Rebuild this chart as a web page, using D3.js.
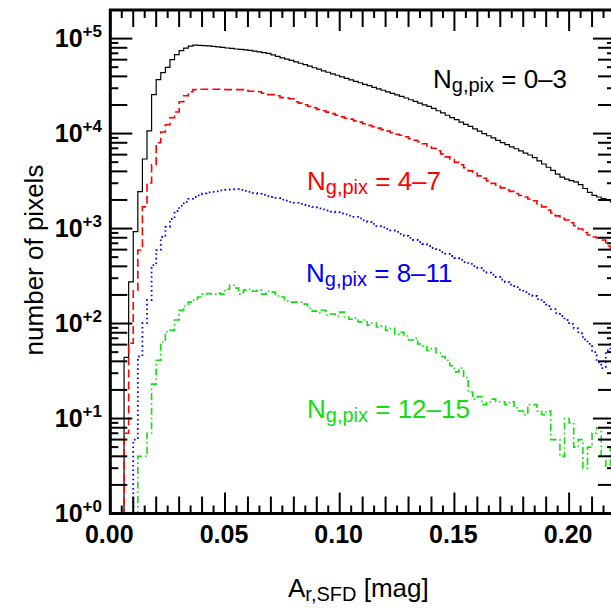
<!DOCTYPE html>
<html>
<head>
<meta charset="utf-8">
<script src="https://cdn.jsdelivr.net/npm/d3@7"></script>
<style>
  html, body { margin: 0; padding: 0; background: #fff; }
  svg { display: block; }
  text { font-family: "Liberation Sans", Arial, Helvetica, sans-serif; }
</style>
</head>
<body>
<svg id="chart" width="611" height="608"></svg>
<script>
// ---------------- data ----------------
const binWidth = 0.002;   // mag
const xTickLabels = ["0.00", "0.05", "0.10", "0.15", "0.20"];
const xTickValues = [0, 0.05, 0.10, 0.15, 0.20];
const yTickExponents = [0, 1, 2, 3, 4, 5];

const seriesNames = ["0\u20133", "4\u20137", "8\u201311", "12\u201315"];

// counts per 0.002-mag bin, from A = 0 to 0.22
const counts03 = [
  0, 0, 0, 44, 275, 930, 2450, 5400, 10700, 25700,
  37000, 43800, 49800, 60000, 67800, 74700, 79400, 83400, 85500, 85000,
  84500, 84000, 83000, 82000, 81000, 79600, 78700, 77700, 76900, 76000,
  75100, 73800, 72600, 71300, 69800, 67300, 65000, 62800, 60900, 58900,
  56900, 55000, 53100, 51200, 49300, 47600, 45800, 44200, 42600, 41100,
  39600, 38200, 36800, 35500, 34300, 33000, 31900, 30700, 29600, 28600,
  27500, 26500, 25600, 24700, 23700, 22700, 21800, 20900, 20100, 19300,
  18400, 17400, 16500, 15600, 14700, 14000, 13200, 12500, 11900, 11200,
  10600, 10000, 9490, 9000, 8500, 8040, 7640, 7260, 6920, 6570,
  6240, 5950, 5590, 5170, 4780, 4420, 4090, 3750, 3480, 3310,
  3200, 3100, 2900, 2640, 2400, 2240, 2150, 2070, 1980, 1910
];
const counts47 = [
  0, 0, 0, 7, 62, 225, 594, 1690, 3020, 4690,
  8000, 10400, 12400, 14700, 16900, 21600, 25000, 27600, 29000, 29300,
  29300, 29300, 29300, 29300, 29300, 29000, 29000, 29000, 29000, 28600,
  27900, 27900, 27600, 26600, 25700, 25700, 25000, 23900, 23600, 23300,
  21600, 20900, 20100, 19400, 18700, 18000, 17400, 16800, 16200, 15600,
  15000, 14500, 14200, 13600, 13200, 12700, 12200, 11800, 11400, 11000,
  10600, 10200, 9840, 9600, 9250, 8810, 8500, 8200, 7800, 7430,
  7000, 6590, 6120, 5690, 5290, 4980, 4690, 4360, 4050, 3810,
  3590, 3380, 3180, 2990, 2810, 2680, 2550, 2460, 2340, 2230,
  2150, 2050, 1960, 1820, 1690, 1570, 1460, 1360, 1280, 1230,
  1150, 1070, 990, 910, 855, 815, 796, 758, 656, 624
];
const counts811 = [
  0, 0, 0, 0, 0, 6, 45, 101, 177, 413,
  594, 815, 1040, 1260, 1530, 1730, 1910, 2050, 2150, 2235,
  2345, 2400, 2430, 2460, 2520, 2555, 2590, 2600, 2555, 2490,
  2430, 2370, 2320, 2260, 2200, 2150, 2100, 2020, 1970, 1910,
  1860, 1820, 1770, 1730, 1690, 1630, 1590, 1550, 1510, 1480,
  1440, 1410, 1370, 1330, 1280, 1220, 1170, 1120, 1060, 1030,
  990, 955, 921, 877, 836, 796, 758, 722, 688, 655,
  624, 594, 566, 540, 514, 490, 467, 444, 424, 403,
  384, 361, 344, 328, 309, 290, 273, 257, 242, 228,
  214, 204, 195, 181, 168, 153, 142, 129, 120, 109,
  99, 89, 79, 68, 61, 50, 39, 34, 52, 64
];
const counts1215 = [
  0, 0, 0, 0, 0, 0, 4, 4, 7, 23,
  41, 64, 82, 85, 109, 138, 153, 168, 177, 190,
  204, 207, 204, 209, 204, 230, 253, 236, 204, 225,
  230, 219, 225, 204, 219, 214, 195, 190, 172, 168,
  168, 168, 160, 145, 135, 129, 138, 123, 126, 120,
  132, 117, 111, 114, 104, 109, 96, 101, 92, 94,
  85, 89, 77, 81, 74, 67, 70, 61, 58, 52,
  55, 49, 45, 41, 36, 31, 34, 27, 19, 16,
  17, 14, 15, 16, 15, 15, 14, 15, 13, 12,
  11, 14, 14, 12, 11, 12, 6, 6, 4, 10,
  9, 5, 6, 3, 5, 7, 8, 4, 3, 5
];

const seriesCounts = [counts03, counts47, counts811, counts1215];
const seriesColors = ["#000000", "#ff0000", "#0000ff", "#11dd11"];

// ---------------- layout ----------------
const svg = d3.select("#chart");
const pLeft = 110.3, pRight = 615, pTop = 10, pBottom = 513.5;

const x = d3.scaleLinear().domain([0, 0.22]).range([pLeft, pRight]);
const y = d3.scaleLog().domain([1, 2e5]).range([pBottom, pTop]);

svg.append("defs").append("clipPath").attr("id", "plotclip")
  .append("rect").attr("x", pLeft).attr("y", pTop)
  .attr("width", pRight - pLeft).attr("height", pBottom - pTop);

// ---------------- curves ----------------
const styles = [
  { dash: null, width: 1.2 },
  { dash: "8,4", width: 1.6 },
  { dash: "1.6,3", width: 1.8 },
  { dash: "7,3,1.6,3", width: 1.6 }
];

const line = d3.line()
  .x(d => x(d[0]))
  .y(d => y(d[1] > 0 ? d[1] : 0.3))
  .curve(d3.curveStepAfter);

const gCurves = svg.append("g").attr("clip-path", "url(#plotclip)");
seriesCounts.forEach((cs, k) => {
  const pts = cs.map((c, i) => [i * binWidth, c]);
  pts.push([cs.length * binWidth, cs[cs.length - 1]]);
  gCurves.append("path")
    .attr("d", line(pts))
    .attr("fill", "none")
    .attr("stroke", seriesColors[k])
    .attr("stroke-width", styles[k].width)
    .attr("stroke-dasharray", styles[k].dash)
    .attr("stroke-linejoin", "miter");
});

// ---------------- ticks ----------------
const gTicks = svg.append("g").attr("stroke", "#000").attr("stroke-width", 2);

// x ticks every 0.005 (bottom and top)
const xMinor = d3.range(0, 45).map(i => i * 0.005);
xMinor.forEach((v, i) => {
  const px = x(v);
  let len = (i % 2 === 0) ? 17 : 8;
  if (i % 10 === 0) len = 21;
  gTicks.append("line").attr("x1", px).attr("x2", px)
    .attr("y1", pBottom).attr("y2", pBottom - len);
  gTicks.append("line").attr("x1", px).attr("x2", px)
    .attr("y1", pTop).attr("y2", pTop + len);
});

// y ticks (left and right)
yTickExponents.forEach(e => {
  for (let m = 1; m <= 9; m++) {
    const v = m * Math.pow(10, e);
    if (v < 1 || v > 2e5) continue;
    const py = y(v);
    let len = (m === 1) ? 22 : (m % 2 === 0 ? 17 : 8);
    gTicks.append("line").attr("x1", pLeft).attr("x2", pLeft + len)
      .attr("y1", py).attr("y2", py);
    gTicks.append("line").attr("x1", pRight).attr("x2", pRight - len)
      .attr("y1", py).attr("y2", py);
  }
});

// frame
svg.append("rect")
  .attr("x", pLeft).attr("y", pTop)
  .attr("width", pRight - pLeft).attr("height", pBottom - pTop)
  .attr("fill", "none").attr("stroke", "#000").attr("stroke-width", 3);

// ---------------- tick labels ----------------
xTickValues.forEach((v, i) => {
  svg.append("text")
    .attr("x", x(v) - 1).attr("y", 543)
    .attr("text-anchor", "middle")
    .attr("font-size", 25).attr("font-weight", "bold")
    .text(xTickLabels[i]);
});

yTickExponents.forEach(e => {
  const py = y(Math.pow(10, e));
  const t = svg.append("text")
    .attr("x", 102).attr("y", py + 8)
    .attr("text-anchor", "end")
    .attr("font-weight", "bold");
  t.append("tspan").attr("font-size", 25).text("10");
  t.append("tspan").attr("font-size", 17).attr("dy", -10).text("+" + e);
});

// ---------------- axis titles ----------------
const xt = svg.append("text").attr("x", 288).attr("y", 597).attr("font-size", 26);
xt.append("tspan").text("A");
xt.append("tspan").attr("font-size", 20).attr("dy", 4).text("r,SFD");
xt.append("tspan").attr("dy", -4).text(" [mag]");

svg.append("text")
  .attr("transform", "translate(43,260) rotate(-90)")
  .attr("text-anchor", "middle")
  .attr("font-size", 26)
  .text("number of pixels");

// ---------------- curve labels ----------------
const labelPos = [[433, 88], [307, 190], [306, 282], [307, 418]];
seriesNames.forEach((name, k) => {
  const t = svg.append("text")
    .attr("x", labelPos[k][0]).attr("y", labelPos[k][1])
    .attr("font-size", 26).attr("fill", seriesColors[k]);
  t.append("tspan").text("N");
  t.append("tspan").attr("font-size", 20).attr("dy", 4).text("g,pix");
  t.append("tspan").attr("dy", -4).text(" = " + name);
});
</script>
</body>
</html>
